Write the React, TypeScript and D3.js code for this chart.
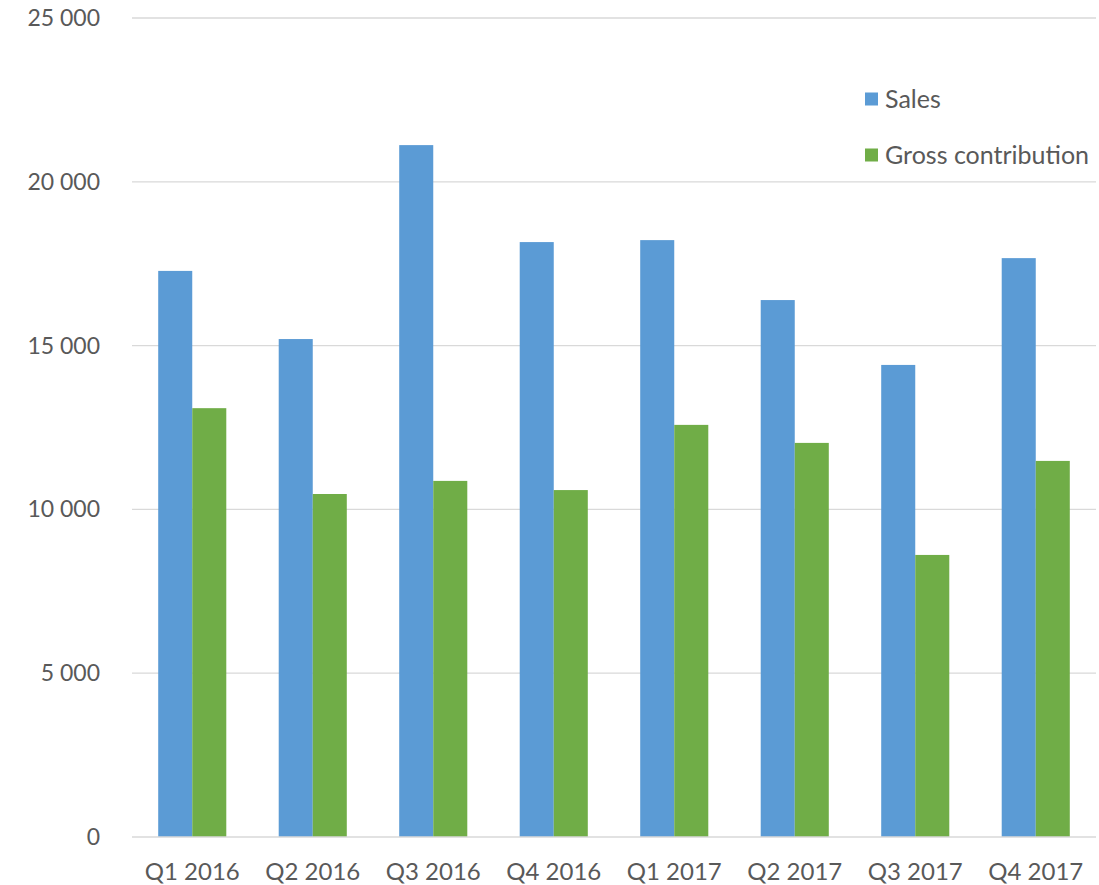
import React from "react";
import * as d3 from "d3";

const categories = ["Q1 2016", "Q2 2016", "Q3 2016", "Q4 2016", "Q1 2017", "Q2 2017", "Q3 2017", "Q4 2017"];
const sales = [17280, 15200, 21120, 18160, 18220, 16390, 14410, 17670];
const grossContribution = [13090, 10470, 10870, 10590, 12580, 12030, 8610, 11480];
const seriesNames = ["Sales", "Gross contribution"];
const seriesColors = ["#5b9bd5", "#70ad47"];
const yTicks = [0, 5000, 10000, 15000, 20000, 25000];

const W = 1099;
const H = 885;
const left = 132;
const right = 1096;
const top = 18;
const bottom = 837;
const font = "Lato, 'Open Sans', sans-serif";

export default function App() {
  const x0 = d3.scaleBand<string>().domain(categories).range([left, right]).paddingInner(0.435).paddingOuter(0.2175);
  const x1 = d3.scaleBand<string>().domain(seriesNames).range([0, x0.bandwidth()]);
  const y = d3.scaleLinear().domain([0, 25000]).range([bottom, top]);
  const fmt = (v: number) => d3.format(",")(v).replace(/,/g, " ");
  const data = [sales, grossContribution];

  return (
    <svg width={W} height={H} style={{ position: "absolute", left: 0, top: 0, background: "#fff" }}>
      {yTicks.map((t) => (
        <g key={t}>
          {t > 0 && <line x1={left} x2={right} y1={y(t)} y2={y(t)} stroke="#d9d9d9" strokeWidth={1.3} />}
          <text x={100} y={y(t)} dy="0.35em" textAnchor="end" fontFamily={font} fontSize={23} fill="#595959">
            {fmt(t)}
          </text>
        </g>
      ))}
      {categories.map((c, i) => (
        <g key={c} transform={`translate(${x0(c)},0)`}>
          {seriesNames.map((s, j) => (
            <rect key={s} x={x1(s)} y={y(data[j][i])} width={x1.bandwidth()} height={bottom - y(data[j][i])} fill={seriesColors[j]} />
          ))}
        </g>
      ))}
      <line x1={left} x2={right} y1={bottom} y2={bottom} stroke="#d9d9d9" strokeWidth={1.3} />
      {categories.map((c) => (
        <text key={c} x={(x0(c) as number) + x0.bandwidth() / 2} y={872} dy="0.35em" textAnchor="middle" fontFamily={font} fontSize={24} fill="#595959">
          {c}
        </text>
      ))}
      {seriesNames.map((s, j) => (
        <g key={s} transform={`translate(865,${99 + j * 56})`}>
          <rect x={0} y={-6.5} width={13} height={13} fill={seriesColors[j]} />
          <text x={20} y={0} dy="0.35em" fontFamily={font} fontSize={25} fill="#595959">
            {s}
          </text>
        </g>
      ))}
    </svg>
  );
}
